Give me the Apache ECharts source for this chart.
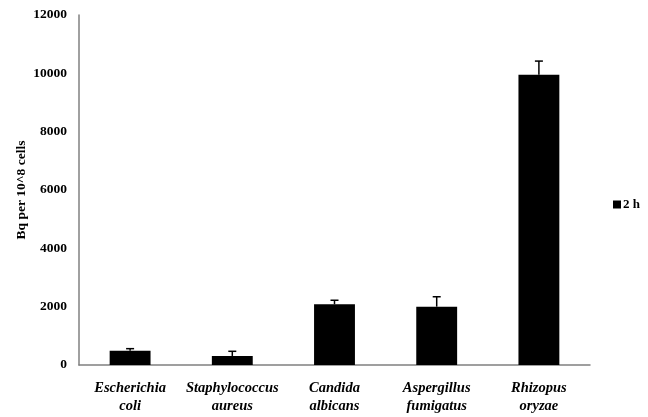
<!DOCTYPE html>
<html><head><meta charset="utf-8">
<script src="https://cdn.jsdelivr.net/npm/echarts@6/dist/echarts.min.js"></script>
<style>html,body{margin:0;padding:0;background:#fff}#c{width:648px;height:417px}</style>
</head><body><div id="c"></div>
<script>
const categories = ['Escherichia\ncoli', 'Staphylococcus\naureus', 'Candida\nalbicans', 'Aspergillus\nfumigatus', 'Rhizopus\noryzae'];
const values = [490, 310, 2080, 2000, 9950];
const errors = [70, 160, 140, 340, 470];
const yTicks = [0, 2000, 4000, 6000, 8000, 10000, 12000];
const seriesName = '2 h';

const font = 'Liberation Serif';
const chart = echarts.init(document.getElementById('c'));
chart.setOption({
  animation: false,
  grid: {left: 79, right: 58, top: 15, bottom: 52},
  legend: {
    data: [seriesName], right: 8, top: 198, orient: 'vertical', padding: 0,
    itemWidth: 8, itemHeight: 8, itemGap: 4,
    icon: 'rect',
    textStyle: {fontFamily: font, fontWeight: 'bold', fontSize: 13, color: '#000', padding: [0,0,0,-3]}
  },
  xAxis: {
    type: 'category', data: categories,
    axisLine: {lineStyle: {color: '#808080', width: 1.5}},
    axisTick: {show: false},
    axisLabel: {fontFamily: font, fontWeight: 'bold', fontStyle: 'italic', fontSize: 14.5, color: '#000', lineHeight: 18, margin: 14, interval: 0}
  },
  yAxis: {
    type: 'value', min: yTicks[0], max: yTicks[yTicks.length-1], interval: 2000,
    name: 'Bq per 10^8 cells', nameLocation: 'middle', nameGap: 50, nameRotate: 90,
    nameMoveOverlap: false,
    nameTextStyle: {fontFamily: font, fontWeight: 'bold', fontSize: 13.5, color: '#000'},
    axisLine: {show: true, lineStyle: {color: '#808080', width: 1.5}},
    axisTick: {show: false},
    splitLine: {show: false},
    axisLabel: {fontFamily: font, fontWeight: 'bold', fontSize: 13.5, color: '#000', margin: 12,
      formatter: v => String(v)}
  },
  series: [
    {name: seriesName, type: 'bar', data: values, barWidth: '40%', itemStyle: {color: '#000'}},
    {type: 'custom', name: 'err', silent: true,
     data: values.map((v, i) => [i, v, v + errors[i]]),
     renderItem: function (params, api) {
       const base = api.coord([api.value(0), api.value(1)]);
       const top = api.coord([api.value(0), api.value(2)]);
       const w = 4;
       const st = {stroke: '#000', lineWidth: 1.5};
       return {type: 'group', children: [
         {type: 'line', shape: {x1: base[0], y1: base[1], x2: top[0], y2: top[1]}, style: st},
         {type: 'line', shape: {x1: top[0]-w, y1: top[1], x2: top[0]+w, y2: top[1]}, style: st}
       ]};
     }, z: 3}
  ]
});
</script></body></html>
